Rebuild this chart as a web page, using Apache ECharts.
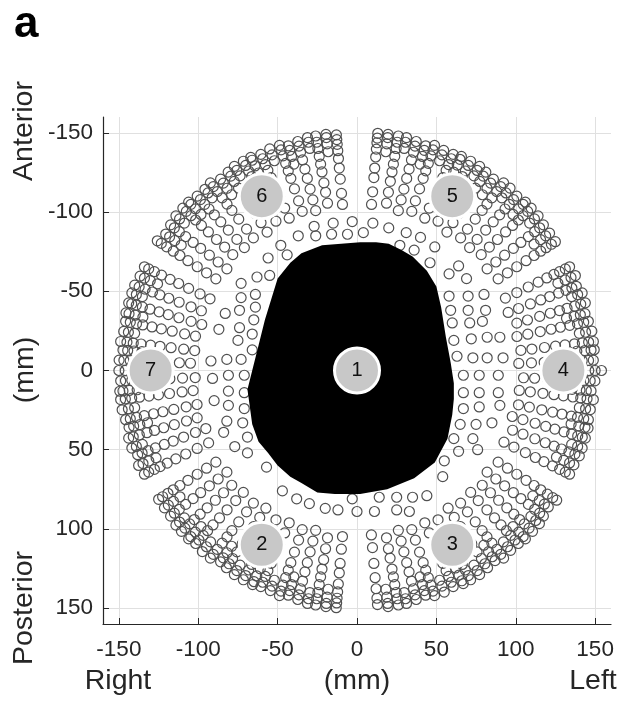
<!DOCTYPE html>
<html>
<head>
<meta charset="utf-8">
<script src="https://cdn.jsdelivr.net/npm/echarts@6/dist/echarts.min.js"></script>
<style>
html, body { margin: 0; padding: 0; background: #fff; }
#chart { width: 622px; height: 701px; }
</style>
</head>
<body>
<div id="chart"></div>
<script>
// axis ticks (mm)
const xTicks = [-150, -100, -50, 0, 50, 100, 150];
const yTicks = [-150, -100, -50, 0, 50, 100, 150];

// numbered modules
const markerNames = ['1', '2', '3', '4', '5', '6', '7'];
const markerX = [0, -60, 60, 130, 60, -60, -130];
const markerY = [0, 110, 110, 0, -110, -110, 0];

// black region outline (mm)
const blobX = [2, 12, 20, 28, 35, 44, 50, 53, 56, 59, 61, 61, 60, 57, 49, 36, 19, 2, -14, -25, -35, -42, -50, -56, -62, -66, -69, -66, -62, -58, -50, -42, -35, -22];
const blobY = [-81, -81, -80, -76, -72, -63, -53, -40, -21, -5, 8, 18, 28, 43, 58, 68, 75, 78, 78, 77, 71, 67, 60, 52, 45, 34, 12, 0, -16, -32, -58, -68, -74, -79];

// central module elements left visible around the black region (mm)
const centrePts = [
  [-27, -91], [-15, -93], [-3, -94], [10, -93], [20, -90], [31, -87], [40, -84], [49, -78],
  [-37, -85], [-26, -85], [-16, -86], [-6, -86], [4, -87], [27, -79], [36, -76], [46, -68],
  [58, -61], [64, -66], [69, -58], [58, -47], [70, -47], [80, -48], [59, -38], [70, -38], [81, -38],
  [60, -30], [71, -30], [79, -31], [61, -19], [72, -20], [82, -21], [90, -21],
  [63, -9], [73, -8], [82, -8], [92, -8], [67, 3], [77, 3], [89, 3], [67, 14], [77, 14], [89, 14],
  [67, 24], [77, 23], [90, 22], [65, 34], [75, 34], [85, 33], [61, 43], [73, 43], [64, 51], [76, 50],
  [55, 57], [54, 67], [44, 79], [35, 80], [25, 80], [14, 80], [-3, 81], [33, 89], [25, 88], [11, 89], [0, 89],
  [-47, 76], [-38, 81], [-30, 84], [-20, 87], [-12, 88], [-57, 61],
  [-69, 52], [-77, 48], [-69, 42], [-84, 39], [-72, 33], [-82, 32], [-71, 24], [-81, 22], [-90, 19],
  [-71, 14], [-81, 13], [-71, 3], [-81, 3], [-91, 5], [-73, -7], [-82, -7], [-92, -6],
  [-66, -13], [-75, -19], [-66, -23], [-74, -27], [-87, -26], [-65, -32], [-74, -38], [-83, -36],
  [-64, -40], [-73, -46], [-64, -48], [-73, -55], [-63, -59], [-55, -60], [-56, -71], [-44, -73], [-48, -79]
];

// outer modules, one row per line: [angle (deg), radius, radius, ...] (mm)
const module4Rows = [
  [334, 103, 110, 118, 125, 131, 137, 142, 146, 149],
  [336.5, 137, 142, 146, 149],
  [339, 105, 112, 120, 127, 133, 138, 143, 147, 150],
  [341, 143, 147, 150],
  [343.5, 102, 109, 117, 124, 130, 136, 141, 145, 148, 150],
  [346, 139, 144, 148, 150],
  [348, 104, 111, 119, 126, 132, 138, 142, 146, 149],
  [350.5, 142, 146, 149],
  [353, 103, 110, 118, 125, 131, 137, 142, 146, 150],
  [355, 136, 141, 145, 148],
  [357.5, 105, 112, 120, 127, 133, 138, 143, 147, 150],
  [0, 146, 150, 154],
  [2.5, 102, 110, 118, 125, 131, 137, 142, 146, 149],
  [5, 139, 144, 148, 150],
  [7, 104, 111, 119, 126, 132, 138, 143, 147, 150],
  [9.5, 142, 146, 150],
  [12, 103, 110, 118, 125, 131, 137, 142, 146, 149],
  [14, 136, 141, 145, 148],
  [16.5, 105, 112, 120, 127, 133, 138, 143, 147, 150],
  [19, 143, 147, 150],
  [21, 102, 109, 117, 124, 130, 136, 141, 145, 148],
  [23.5, 138, 143, 147, 150],
  [26, 104, 112, 120, 127, 133, 138, 142, 146, 149]
];
const module5Rows = [
  [33, 106, 113, 120, 127, 133, 138, 142, 146, 149],
  [35.5, 137, 142, 146, 149],
  [38, 104, 111, 118, 125, 131, 137, 142, 146, 149],
  [40.5, 143, 147, 150],
  [43, 107, 114, 121, 128, 134, 139, 143, 147, 150],
  [45, 139, 144, 148, 150],
  [47.5, 105, 112, 120, 127, 133, 138, 142, 146, 149],
  [50, 142, 146, 150],
  [52, 106, 113, 121, 128, 133, 138, 143, 147, 150],
  [54.5, 136, 141, 145, 148],
  [57, 104, 111, 118, 125, 131, 137, 142, 146, 149],
  [59, 143, 147, 150],
  [61.5, 107, 114, 121, 128, 134, 139, 143, 147, 150],
  [64, 139, 144, 148, 150],
  [66, 105, 112, 120, 127, 133, 138, 142, 146, 149],
  [68.5, 142, 146, 149],
  [71, 106, 113, 121, 128, 133, 138, 143, 147, 150],
  [73, 136, 141, 145, 148],
  [75.5, 104, 111, 118, 125, 131, 137, 142, 146, 149],
  [78, 143, 147, 150],
  [80, 107, 114, 121, 127, 132, 137, 142, 146, 150],
  [82.5, 139, 144, 148, 150],
  [85, 105, 113, 122, 128, 135, 140, 144, 147, 150]
];
const module6Rows = [
  [95, 105, 112, 121, 128, 134, 139, 143, 146, 149],
  [97.5, 139, 144, 148, 150],
  [100, 107, 114, 120, 127, 132, 137, 142, 146, 150],
  [102, 143, 147, 150],
  [104.5, 104, 111, 118, 125, 131, 137, 142, 146, 149],
  [107, 136, 141, 145, 148],
  [109, 106, 113, 121, 128, 133, 138, 143, 147, 150],
  [111.5, 142, 146, 150],
  [114, 105, 112, 120, 127, 133, 138, 142, 146, 149],
  [116.5, 139, 144, 148, 150],
  [118.5, 107, 114, 121, 128, 134, 139, 143, 147, 150],
  [121, 143, 147, 150],
  [123, 104, 111, 118, 125, 131, 137, 142, 146, 149],
  [125.5, 136, 141, 145, 148],
  [128, 106, 113, 121, 128, 133, 138, 143, 147, 150],
  [130, 142, 146, 149],
  [132.5, 105, 112, 120, 127, 133, 138, 142, 146, 149],
  [135, 139, 144, 148, 150],
  [137, 107, 114, 121, 128, 134, 139, 143, 147, 150],
  [139.5, 143, 147, 150],
  [142, 104, 111, 118, 125, 131, 137, 142, 146, 149],
  [144.5, 136, 141, 145, 148],
  [147, 106, 113, 120, 127, 133, 138, 143, 147, 150]
];
const module7Rows = [
  [154, 103, 110, 118, 125, 131, 137, 142, 146, 149],
  [156.5, 137, 142, 146, 149],
  [159, 105, 112, 120, 127, 133, 138, 143, 147, 150],
  [161, 143, 147, 150],
  [163.5, 102, 109, 117, 124, 130, 136, 141, 145, 148, 150],
  [166, 139, 144, 148, 150],
  [168, 104, 111, 119, 126, 132, 138, 142, 146, 149],
  [170.5, 142, 146, 149],
  [173, 103, 110, 118, 125, 131, 137, 142, 146, 150],
  [175, 136, 141, 145, 148],
  [177.5, 105, 112, 120, 127, 133, 138, 143, 147, 150],
  [180, 146, 150],
  [182.5, 102, 110, 118, 125, 131, 137, 142, 146, 149],
  [185, 139, 144, 148, 150],
  [187, 104, 111, 119, 126, 132, 138, 143, 147, 150],
  [189.5, 142, 146, 150],
  [192, 103, 110, 118, 125, 131, 137, 142, 146, 149],
  [194, 136, 141, 145, 148],
  [196.5, 105, 112, 120, 127, 133, 138, 143, 147, 150],
  [199, 143, 147, 150],
  [201, 102, 109, 117, 124, 130, 136, 141, 145, 148],
  [203.5, 138, 143, 147, 150],
  [206, 104, 112, 120, 127, 133, 138, 142, 146, 149]
];
const module2Rows = [
  [213, 106, 113, 120, 127, 133, 138, 142, 146, 149],
  [215.5, 137, 142, 146, 149],
  [218, 104, 111, 118, 125, 131, 137, 142, 146, 149],
  [220.5, 143, 147, 150],
  [222.5, 107, 114, 121, 128, 134, 139, 143, 147, 150],
  [225, 139, 144, 148, 150],
  [227, 105, 112, 120, 127, 133, 138, 142, 146, 149],
  [229.5, 142, 146, 150],
  [232, 106, 113, 121, 128, 133, 138, 143, 147, 150],
  [234.5, 136, 141, 145, 148],
  [236.5, 104, 111, 118, 125, 131, 137, 142, 146, 149],
  [239, 143, 147, 150],
  [241.5, 107, 114, 121, 128, 134, 139, 143, 147, 150],
  [244, 139, 144, 148, 150],
  [246, 105, 112, 120, 127, 133, 138, 142, 146, 149],
  [248.5, 142, 146, 149],
  [251, 106, 113, 121, 128, 133, 138, 143, 147, 150],
  [253, 136, 141, 145, 148],
  [255.5, 104, 111, 118, 125, 131, 137, 142, 146, 149],
  [258, 143, 147, 150],
  [260, 107, 114, 121, 127, 132, 137, 142, 146, 150],
  [262.5, 139, 144, 148, 150],
  [265, 105, 113, 122, 128, 135, 140, 144, 147, 150]
];
const module3Rows = [
  [275, 104, 112, 122, 131, 138, 144, 148],
  [277.5, 139, 144, 148, 150],
  [280, 107, 114, 120, 127, 132, 137, 142, 146, 150],
  [282, 143, 147, 150],
  [284.5, 104, 111, 118, 125, 131, 137, 142, 146, 149],
  [287, 136, 141, 145, 148],
  [289, 106, 113, 121, 128, 133, 138, 143, 147, 150],
  [291.5, 142, 146, 150],
  [294, 105, 112, 120, 127, 133, 138, 142, 146, 149],
  [296.5, 139, 144, 148, 150],
  [298.5, 107, 114, 121, 128, 134, 139, 143, 147, 150],
  [301, 143, 147, 150],
  [303.5, 104, 111, 118, 125, 131, 137, 142, 146, 149],
  [306, 136, 141, 145, 148],
  [308, 106, 113, 121, 128, 133, 138, 143, 147, 150],
  [310.5, 142, 146, 149],
  [313, 105, 112, 120, 127, 133, 138, 142, 146, 149],
  [315, 139, 144, 148, 150],
  [317.5, 107, 114, 121, 128, 134, 139, 143, 147, 150],
  [320, 143, 147, 150],
  [322, 104, 111, 118, 125, 131, 137, 142, 146, 149],
  [324.5, 136, 141, 145, 148],
  [327, 106, 113, 120, 127, 133, 138, 143, 147, 150]
];

function rowsToPolar(rows) {
  const out = [];
  rows.forEach(function (row) {
    for (let i = 1; i < row.length; i++) {
      out.push([row[i], row[0]]);
    }
  });
  return out;
}

const outerData = [].concat(
  rowsToPolar(module2Rows), rowsToPolar(module3Rows), rowsToPolar(module4Rows),
  rowsToPolar(module5Rows), rowsToPolar(module6Rows), rowsToPolar(module7Rows)
);

const FONT = 'Liberation Sans, Arial, sans-serif';
const INK = '#262626';

const elementStyle = {
  color: 'rgba(255,255,255,0)',
  borderColor: '#505050',
  borderWidth: 1.2,
  opacity: 1
};

const option = {
  animation: false,
  grid: { left: 103, top: 117, width: 508, height: 507 },
  xAxis: {
    type: 'value',
    min: -160,
    max: 160,
    axisLine: { show: true, onZero: false, lineStyle: { color: INK, width: 1.2 } },
    axisTick: { show: true, inside: true, length: 6, customValues: xTicks, lineStyle: { color: INK } },
    axisLabel: { customValues: xTicks, color: INK, fontSize: 22.5, margin: 14, fontFamily: FONT },
    splitLine: { show: true, lineStyle: { color: '#e0e0e0', width: 1 } }
  },
  yAxis: {
    type: 'value',
    inverse: true,
    min: -160,
    max: 160,
    axisLine: { show: true, onZero: false, lineStyle: { color: INK, width: 1.2 } },
    axisTick: { show: true, inside: true, length: 6, customValues: yTicks, lineStyle: { color: INK } },
    axisLabel: { customValues: yTicks, color: INK, fontSize: 22.5, margin: 10, fontFamily: FONT },
    splitLine: { show: true, lineStyle: { color: '#e0e0e0', width: 1 } }
  },
  polar: { center: [357, 370.5], radius: 254 },
  radiusAxis: {
    type: 'value', min: 0, max: 160,
    axisLine: { show: false }, axisTick: { show: false }, axisLabel: { show: false }, splitLine: { show: false }
  },
  angleAxis: {
    type: 'value', min: 0, max: 360, startAngle: 0, clockwise: false,
    axisLine: { show: false }, axisTick: { show: false }, axisLabel: { show: false }, splitLine: { show: false }
  },
  graphic: [
    { type: 'text', left: 14, top: 3, style: { text: 'a', font: 'bold 44px ' + FONT, fill: '#000' } },
    { type: 'text', x: 24, y: 131, rotation: Math.PI / 2, style: { text: 'Anterior', font: '28.5px ' + FONT, fill: INK, align: 'center', verticalAlign: 'middle' } },
    { type: 'text', x: 25, y: 370, rotation: Math.PI / 2, style: { text: '(mm)', font: '28.5px ' + FONT, fill: INK, align: 'center', verticalAlign: 'middle' } },
    { type: 'text', x: 24, y: 608, rotation: Math.PI / 2, style: { text: 'Posterior', font: '28.5px ' + FONT, fill: INK, align: 'center', verticalAlign: 'middle' } },
    { type: 'text', x: 118, y: 681, style: { text: 'Right', font: '28.5px ' + FONT, fill: INK, align: 'center', verticalAlign: 'middle' } },
    { type: 'text', x: 357, y: 681, style: { text: '(mm)', font: '28.5px ' + FONT, fill: INK, align: 'center', verticalAlign: 'middle' } },
    { type: 'text', x: 593, y: 681, style: { text: 'Left', font: '28.5px ' + FONT, fill: INK, align: 'center', verticalAlign: 'middle' } }
  ],
  series: [
    {
      name: 'centre',
      type: 'scatter',
      coordinateSystem: 'cartesian2d',
      symbol: 'circle',
      symbolSize: 10,
      itemStyle: elementStyle,
      z: 2,
      silent: true,
      data: centrePts
    },
    {
      name: 'outer',
      type: 'scatter',
      coordinateSystem: 'polar',
      symbol: 'circle',
      symbolSize: 10,
      itemStyle: elementStyle,
      z: 2,
      silent: true,
      data: outerData
    },
    {
      name: 'blob',
      type: 'custom',
      coordinateSystem: 'cartesian2d',
      z: 3,
      silent: true,
      clip: false,
      data: [[0, 0]],
      renderItem: function (params, api) {
        const pts = blobX.map(function (x, i) { return api.coord([x, blobY[i]]); });
        return { type: 'polygon', shape: { points: pts }, style: { fill: '#000' } };
      }
    },
    {
      name: 'modules',
      type: 'scatter',
      coordinateSystem: 'cartesian2d',
      symbol: 'circle',
      symbolSize: 45,
      z: 5,
      silent: true,
      itemStyle: { color: '#c8c8c8', borderColor: '#fff', borderWidth: 3, opacity: 1 },
      label: {
        show: true,
        position: 'inside',
        formatter: function (p) { return p.value[2]; },
        color: '#111',
        fontSize: 20,
        fontFamily: FONT
      },
      data: markerX.map(function (x, i) { return [x, markerY[i], markerNames[i]]; })
    }
  ]
};

const chart = echarts.init(document.getElementById('chart'));
chart.setOption(option);
window.addEventListener('resize', function () { chart.resize(); });
</script>
</body>
</html>
